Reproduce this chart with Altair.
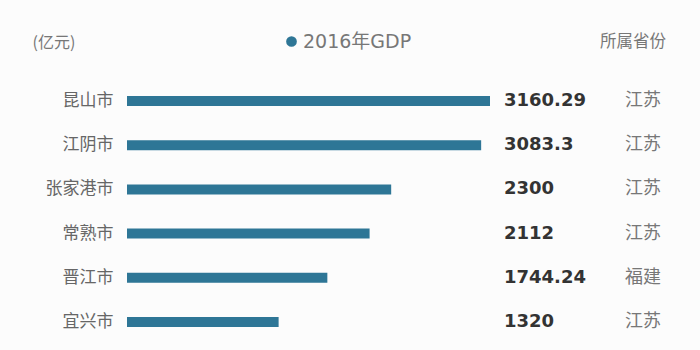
import altair as alt
import pandas as pd

cities = ["昆山市", "江阴市", "张家港市", "常熟市", "晋江市", "宜兴市"]
gdp = [3160.29, 3083.3, 2300, 2112, 1744.24, 1320]
gdp_labels = ["3160.29", "3083.3", "2300", "2112", "1744.24", "1320"]
provinces = ["江苏", "江苏", "江苏", "江苏", "福建", "江苏"]
series_name = "2016年GDP"
unit_label = "(亿元)"
province_header = "所属省份"

df = pd.DataFrame({
    "city": cities,
    "gdp": gdp,
    "label": gdp_labels,
    "province": provinces,
    "series": [series_name] * len(cities),
})

FONT = "Noto Sans CJK SC"
BAR = "#2e7696"

y_enc = alt.Y(
    "city:N",
    sort=cities,
    scale=alt.Scale(paddingInner=0, paddingOuter=0),
    axis=alt.Axis(
        title=unit_label, titleAngle=0, titleX=-95, titleY=-37,
        titleAlign="left", titleBaseline="middle", titleFont=FONT,
        titleFontSize=16, titleFontWeight="normal", titleColor="#777777",
        labelFont=FONT, labelFontSize=17, labelColor="#666666",
        labelPadding=14, ticks=False, domain=False, grid=False,
    ),
)

bars = alt.Chart(df).mark_bar(height=10).encode(
    x=alt.X("gdp:Q", scale=alt.Scale(domain=[0, 3160.29], nice=False), axis=None),
    y=y_enc,
    color=alt.Color(
        "series:N",
        scale=alt.Scale(range=[BAR]),
        legend=alt.Legend(
            title=None, orient="none", legendX=155, legendY=-47,
            symbolType="circle", symbolSize=115, symbolStrokeWidth=0,
            labelFont="DejaVu Sans, Noto Sans CJK SC", labelFontSize=19,
            labelColor="#777777", labelOffset=2, padding=0,
        ),
    ),
)

values = alt.Chart(df).mark_text(
    align="left", baseline="middle", font="DejaVu Sans", fontSize=18,
    fontWeight="bold", color="#333333",
).encode(
    x=alt.value(377),
    y=alt.Y("city:N", sort=cities),
    text="label:N",
)

provs = alt.Chart(df).mark_text(
    align="left", baseline="middle", font=FONT, fontSize=18, color="#777777",
).encode(
    x=alt.value(498),
    y=alt.Y("city:N", sort=cities),
    text="province:N",
)

header = alt.Chart(pd.DataFrame({"t": [province_header]})).mark_text(
    align="left", baseline="middle", font=FONT, fontSize=16.5, color="#777777",
).encode(
    x=alt.value(473),
    y=alt.value(-37),
    text="t:N",
)

chart = alt.layer(bars, values, provs, header).properties(
    width=363,
    height=265,
    autosize=alt.AutoSizeParams(type="none"),
    padding={"left": 127, "top": 79, "right": 210, "bottom": 6},
    background="#fcfcfc",
).configure_view(stroke=None)

chart.save("out.html", embed_options={"renderer": "svg", "actions": False})
